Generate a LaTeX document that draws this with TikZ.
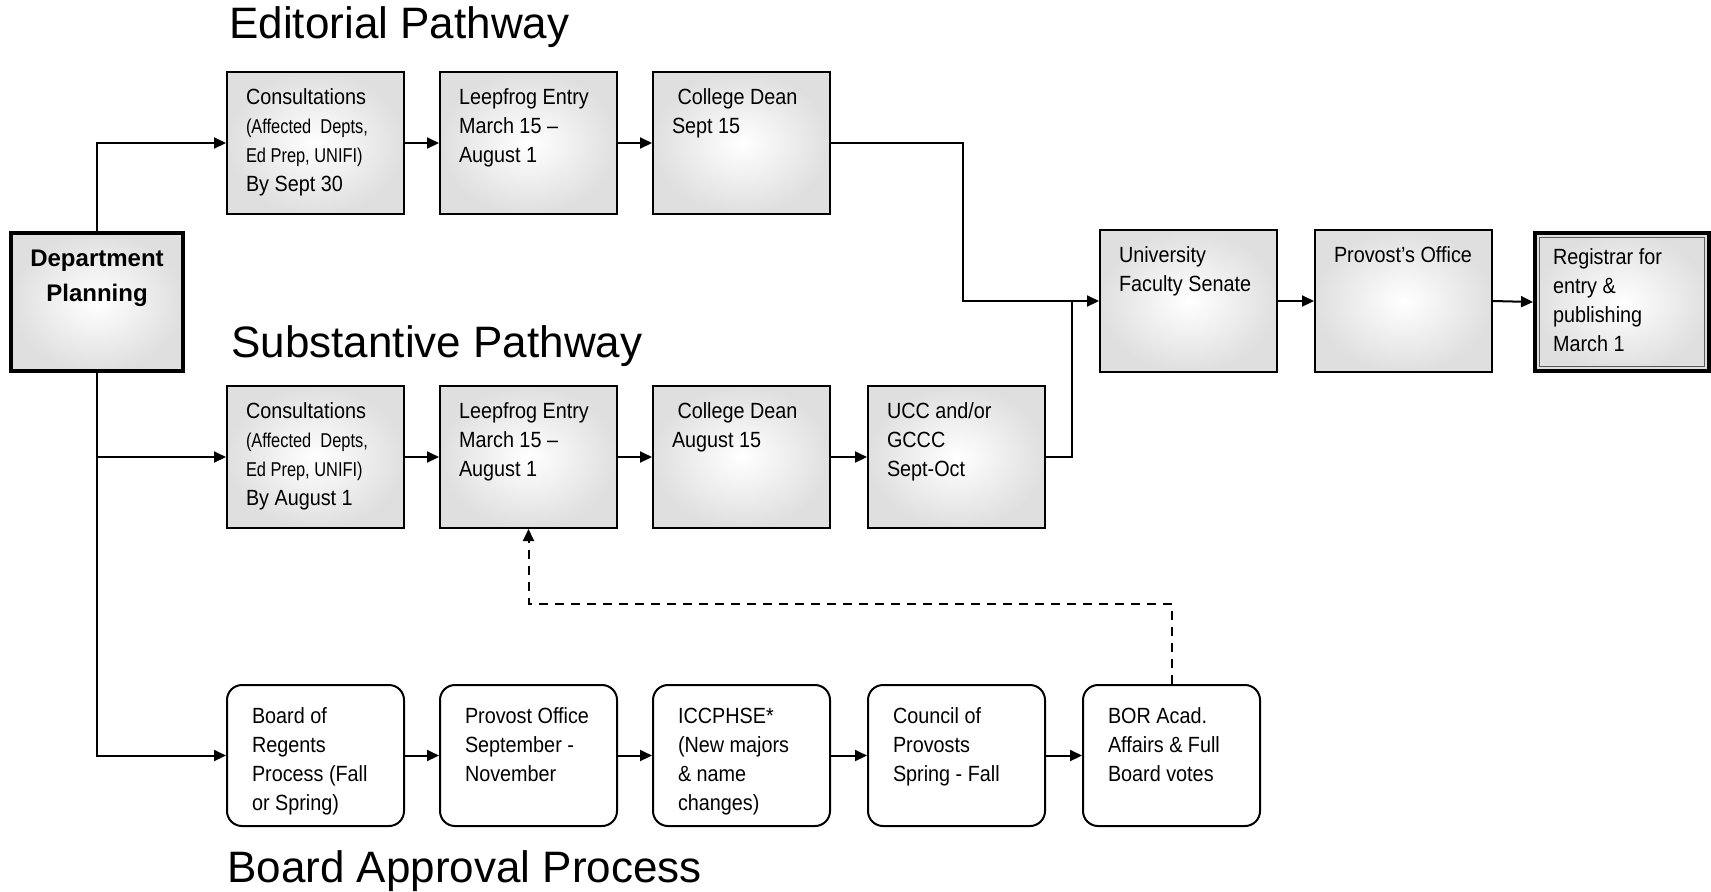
\documentclass[tikz,border=0pt]{standalone}
\usepackage{fontspec}
\setmainfont{Liberation Sans}
\newfontfamily\narrowfont[FakeStretch=0.9]{Liberation Sans}
\newfontfamily\narrowerfont[FakeStretch=0.82]{Liberation Sans}
\newcommand{\notefont}{\narrowerfont\fontsize{10}{14.5}\selectfont}
\usetikzlibrary{arrows.meta}
\tikzset{>={Triangle[length=6pt,width=5.5pt]}}
\tikzset{
  pathbox/.style={draw, line width=1pt, rectangle, anchor=north west,
    shade, inner color=white, outer color=gray!25,
    inner xsep=9.5pt, inner ysep=8.5pt,
    font=\narrowfont\fontsize{11}{14.5}\selectfont,
    execute at begin node={\begin{minipage}[c][54pt][t]{69.5pt}},
    execute at end node={\end{minipage}}},
  regbox/.style={draw, line width=2pt, rectangle, anchor=north west,
    shade, inner color=white, outer color=gray!25,
    inner xsep=9pt, inner ysep=8pt,
    font=\narrowfont\fontsize{11}{14.5}\selectfont,
    execute at begin node={\begin{minipage}[c][53pt][t]{69pt}},
    execute at end node={\end{minipage}}},
  deptbox/.style={draw, line width=2pt, rectangle, anchor=north west,
    shade, inner color=white, outer color=gray!25,
    inner xsep=5pt, inner ysep=8.5pt,
    font=\bfseries\fontsize{12}{17.5}\selectfont,
    execute at begin node={\begin{minipage}[c][52pt][t]{76pt}\centering},
    execute at end node={\end{minipage}}},
  boardbox/.style={draw, line width=1pt, rounded corners=7.5pt, fill=white,
    anchor=north west, inner xsep=12.5pt, inner ysep=11.5pt,
    font=\narrowfont\fontsize{11}{14.5}\selectfont,
    execute at begin node={\begin{minipage}[c][47.5pt][t]{63.5pt}},
    execute at end node={\end{minipage}}},
  titletext/.style={font=\fontsize{22}{27}\selectfont, inner sep=0pt, anchor=base west},
  flow/.style={->, line width=1pt},
  joinline/.style={line width=1pt},
  feedback/.style={->, line width=1pt, dash pattern=on 4.5pt off 3.5pt}
}

\begin{document}
\begin{tikzpicture}[x=0.5pt,y=-0.5pt]

  \def\colA{226}
  \def\colB{439}
  \def\colC{652}
  \def\colD{867}
  \def\colE{1082}

  \def\rowtop{71}
  \def\rowsub{385}
  \def\rowboard{684}
  \def\rowend{229}

  \useasboundingbox (0,0) rectangle (1711,891);

  \coordinate (bendA) at (963,0);
  \coordinate (joinB) at (1072,0);
  \coordinate (fbturn) at (0,604);

  % titles
  \node[titletext] (edtitle) at (229,38) {Editorial Pathway};
  \node[titletext] (subtitle) at (231,357) {Substantive Pathway};
  \node[titletext] (bdtitle) at (227,882) {Board Approval Process};

  \node[deptbox] (dept) at (9,231) {Department\\Planning};

  % editorial row
  \node[pathbox] (cons1) at (\colA,\rowtop) {Consultations\\{\notefont (Affected~ Depts,\\Ed Prep, UNIFI)}\\By Sept 30};
  \node[pathbox] (leep1) at (\colB,\rowtop) {Leepfrog Entry\\March 15 –\\August 1};
  \node[pathbox] (dean1) at (\colC,\rowtop) {~College Dean\\Sept 15};

  % substantive row
  \node[pathbox] (cons2) at (\colA,\rowsub) {Consultations\\{\notefont (Affected~ Depts,\\Ed Prep, UNIFI)}\\By August 1};
  \node[pathbox] (leep2) at (\colB,\rowsub) {Leepfrog Entry\\March 15 –\\August 1};
  \node[pathbox] (dean2) at (\colC,\rowsub) {~College Dean\\August 15};
  \node[pathbox] (ucc) at (\colD,\rowsub) {UCC and/or\\GCCC\\Sept-Oct};

  % board row
  \node[boardbox] (bor1) at (\colA,\rowboard) {Board of\\Regents\\Process (Fall\\or Spring)};
  \node[boardbox] (bor2) at (\colB,\rowboard) {Provost Office\\September -\\November};
  \node[boardbox] (bor3) at (\colC,\rowboard) {ICCPHSE*\\(New majors\\\& name\\changes)};
  \node[boardbox] (bor4) at (\colD,\rowboard) {Council of\\Provosts\\Spring - Fall};
  \node[boardbox] (bor5) at (\colE,\rowboard) {BOR Acad.\\Affairs \& Full\\Board votes};

  % final row
  \node[pathbox] (univ) at (1099,\rowend) {University\\Faculty Senate};
  \node[pathbox] (prov) at (1314,\rowend) {Provost’s Office};
  \node[regbox] (reg) at (1533,231) {Registrar for\\entry \&\\publishing\\March 1};
  \draw[line width=0.7pt, gray!70!black] ([xshift=3.2pt,yshift=-3.2pt]reg.north west) rectangle ([xshift=-3.2pt,yshift=3.2pt]reg.south east);

  % connectors
  \draw[flow] (dept.north) |- (cons1.west);
  \draw[flow] (dept.south) |- (cons2.west);
  \draw[flow] (dept.south) |- (bor1.west);

  \draw[flow] (cons1.east) -- (leep1.west);
  \draw[flow] (leep1.east) -- (dean1.west);
  \draw[flow] (dean1.east) -| (bendA |- univ.west) -- (univ.west);

  \draw[flow] (cons2.east) -- (leep2.west);
  \draw[flow] (leep2.east) -- (dean2.west);
  \draw[flow] (dean2.east) -- (ucc.west);
  \draw[joinline] (ucc.east) -| (joinB |- univ.west);

  \draw[flow] (bor1.east) -- (bor2.west);
  \draw[flow] (bor2.east) -- (bor3.west);
  \draw[flow] (bor3.east) -- (bor4.west);
  \draw[flow] (bor4.east) -- (bor5.west);

  \draw[flow] (univ.east) -- (prov.west);
  \draw[flow] (prov.east) -- (reg.west);

  \draw[feedback] (bor5.north) |- (leep2.south |- fbturn) -- (leep2.south);

\end{tikzpicture}
\end{document}
